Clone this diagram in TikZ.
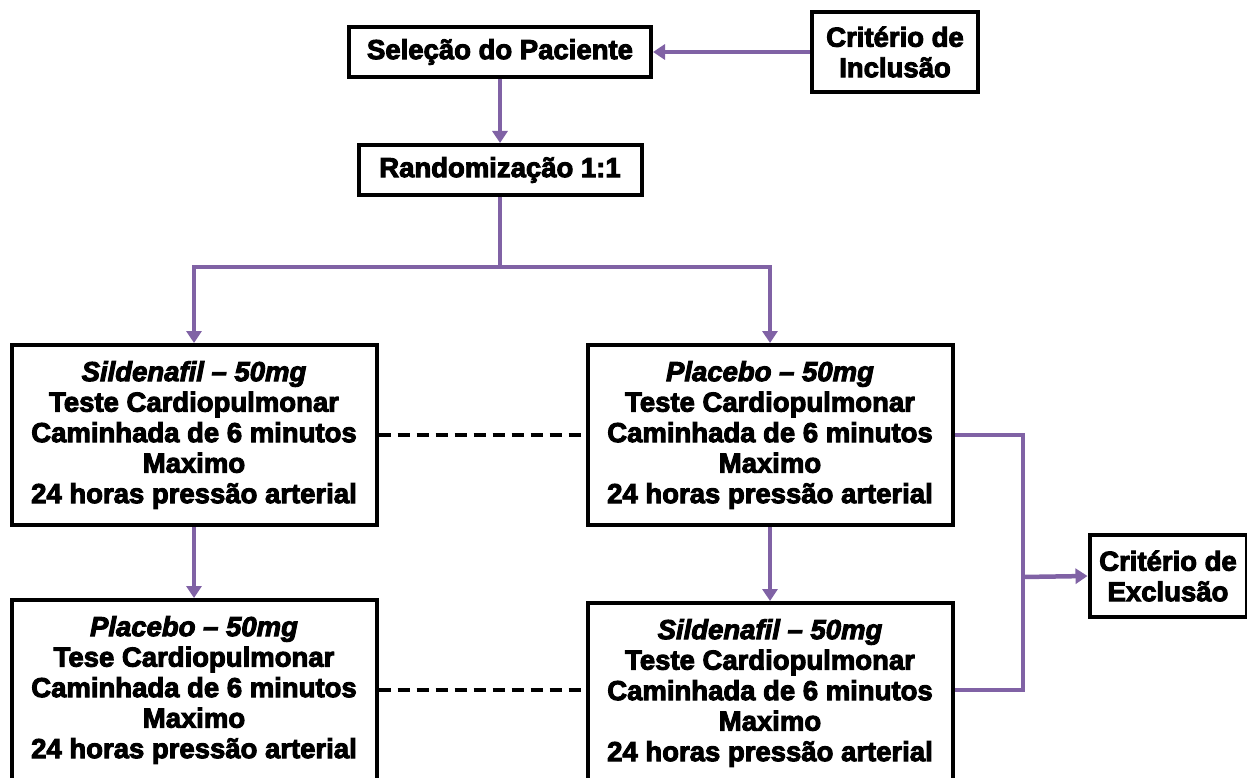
\documentclass[tikz,border=0pt]{standalone}
\usepackage{fontspec}
\newfontfamily\hv{Liberation Sans Bold}[FakeBold=3.5]
\newfontfamily\hvi{Liberation Sans Bold Italic}[FakeBold=3.5]
\usetikzlibrary{arrows.meta}
\definecolor{lila}{RGB}{128,98,165}
\begin{document}
\begin{tikzpicture}[x=1pt,y=-1pt,
  box/.style={draw=black, line width=4pt, fill=white, align=center, inner sep=0pt,
    font=\hv\fontsize{27.5}{30.5}\selectfont},
  conn/.style={draw=lila, line width=4.5pt},
  arr/.style={conn, -{Triangle[length=12pt,width=15pt]}},
  dash line/.style={draw=black, line width=3.5pt, dash pattern=on 12pt off 7pt}]
\useasboundingbox (0,0) rectangle (1247,778);
\clip (0,0) rectangle (1247,778);
\node[box, minimum width=302pt, minimum height=50pt] (sel) at (500,52) {Seleção do Paciente};
\node[box, minimum width=166pt, minimum height=80pt] (inc) at (895,52) {Critério de\\Inclusão};
\node[box, minimum width=283pt, minimum height=50pt] (rand) at (500,170) {Randomização 1:1};
\node[box, minimum width=365pt, minimum height=180pt] (sl) at (194,435)
  {{\hvi Sildenafil – 50mg}\\Teste Cardiopulmonar\\Caminhada de 6 minutos\\Maximo\\24 horas pressão arterial};
\node[box, minimum width=365pt, minimum height=180pt] (pr) at (770,435)
  {{\hvi Placebo – 50mg}\\Teste Cardiopulmonar\\Caminhada de 6 minutos\\Maximo\\24 horas pressão arterial};
\node[box, minimum width=365pt, minimum height=180pt] (bl) at (194,690)
  {{\hvi Placebo – 50mg}\\Tese Cardiopulmonar\\Caminhada de 6 minutos\\Maximo\\24 horas pressão arterial};
\node[box, minimum width=365pt, minimum height=180pt] (br) at (770,693)
  {{\hvi Sildenafil – 50mg}\\Teste Cardiopulmonar\\Caminhada de 6 minutos\\Maximo\\24 horas pressão arterial};
\node[box, minimum width=157pt, minimum height=82pt] (exc) at (1168,576) {Critério de\\Exclusão};
\coordinate (split) at (500,267);
\coordinate (j) at (1023,577);
% arrows
\draw[arr] (inc.west) -- (sel.east);
\draw[arr] (sel.south) -- (rand.north);
\draw[conn] (rand.south) -- (split);
\draw[arr] (split) -| (sl.north);
\draw[arr] (split) -| (pr.north);
\draw[arr] (sl.south) -- (bl.north);
\draw[arr] (pr.south) -- (br.north);
\draw[dash line] (sl.east) -- (pr.west);
\draw[dash line] (bl.east) -- (bl.east -| br.west);
\draw[conn] (pr.east) -| (j) |- (br.east |- bl.east);
\draw[arr] (j) -- (exc.west);
\end{tikzpicture}
\end{document}
